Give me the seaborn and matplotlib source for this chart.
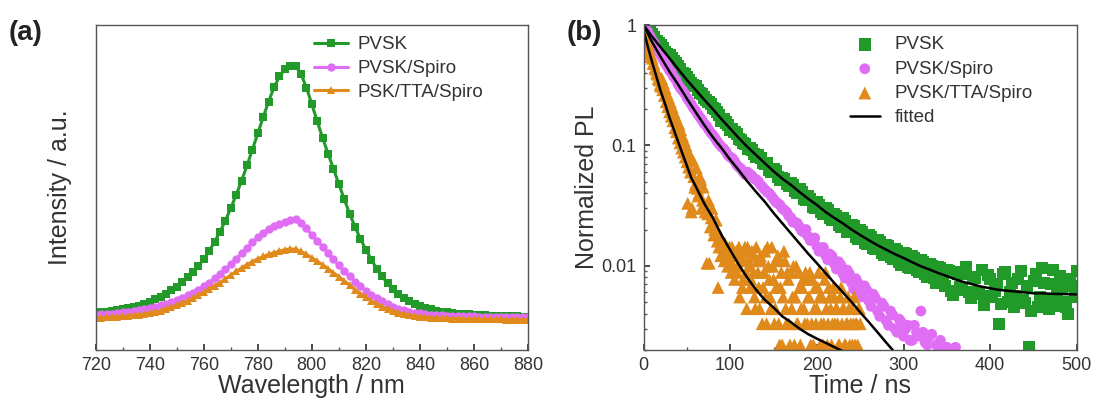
import numpy as np
import pandas as pd
import seaborn as sns
import matplotlib.pyplot as plt
from matplotlib.ticker import MultipleLocator, LogLocator, NullFormatter

# ---------------- data: (a) steady-state PL ----------------
wavelength = list(range(720, 882, 2))
pl_pvsk = [11.0, 11.1, 11.3, 11.5, 11.7, 12.0, 12.3, 12.7, 13.1, 13.6,
           14.2, 14.9, 15.7, 16.6, 17.6, 18.7, 20.0, 21.4, 23.0, 24.8,
           26.8, 29.2, 31.9, 34.9, 38.2, 41.9, 45.8, 50.0, 54.5, 59.2,
           64.0, 68.8, 73.4, 77.6, 80.8, 82.9, 84.0, 83.8, 81.5, 77.5,
           72.6, 67.5, 62.6, 58.0, 53.5, 49.0, 44.5, 40.2, 36.3, 32.8,
           29.6, 26.7, 24.0, 21.7, 19.7, 18.0, 16.6, 15.4, 14.4, 13.6,
           12.9, 12.4, 12.0, 11.6, 11.3, 11.1, 10.9, 10.7, 10.6, 10.5,
           10.4, 10.3, 10.2, 10.1, 10.1, 10.0, 10.0, 9.9, 9.9, 9.8, 9.8]
pl_spiro = [10.4, 10.5, 10.6, 10.7, 10.9, 11.1, 11.3, 11.5, 11.8, 12.1,
            12.4, 12.8, 13.2, 13.7, 14.2, 14.8, 15.4, 16.1, 16.9, 17.8,
            18.8, 19.9, 21.1, 22.4, 23.8, 25.3, 26.9, 28.5, 30.2, 31.8,
            33.3, 34.6, 35.7, 36.6, 37.3, 37.8, 38.4, 38.6, 37.6, 35.9,
            34.0, 32.2, 30.4, 28.6, 26.8, 25.0, 23.3, 21.7, 20.2, 18.8,
            17.5, 16.3, 15.2, 14.3, 13.5, 12.8, 12.2, 11.7, 11.3, 11.0,
            10.8, 10.6, 10.4, 10.3, 10.2, 10.1, 10.0, 10.0, 9.9, 9.9,
            9.9, 9.8, 9.8, 9.8, 9.7, 9.7, 9.7, 9.7, 9.6, 9.6, 9.6]
pl_tta = [9.5, 9.5, 9.6, 9.7, 9.8, 9.9, 10.0, 10.2, 10.4, 10.6,
          10.9, 11.2, 11.6, 12.1, 12.6, 13.2, 13.8, 14.5, 15.3, 16.1,
          17.0, 17.9, 18.9, 19.9, 21.0, 22.1, 23.2, 24.2, 25.2, 26.1,
          26.9, 27.6, 28.2, 28.7, 29.2, 29.6, 29.9, 29.7, 29.1, 28.2,
          27.2, 26.2, 25.1, 24.0, 22.8, 21.6, 20.4, 19.1, 17.8, 16.6,
          15.5, 14.5, 13.6, 12.8, 12.1, 11.5, 11.0, 10.6, 10.3, 10.0,
          9.8, 9.6, 9.5, 9.4, 9.3, 9.3, 9.2, 9.2, 9.1, 9.1,
          9.1, 9.0, 9.0, 9.0, 9.0, 9.0, 8.9, 8.9, 8.9, 8.9, 8.9]

# ---------------- data: (b) TRPL ----------------
t_pvsk = list(range(0, 505, 5))
trpl_pvsk = [0.98, 0.93, 0.84, 0.74, 0.68, 0.60, 0.56, 0.50, 0.46, 0.40,
             0.37, 0.33, 0.31, 0.27, 0.25, 0.23, 0.205, 0.19, 0.16, 0.155,
             0.135, 0.13, 0.112, 0.104, 0.094, 0.092, 0.080, 0.079, 0.070, 0.063,
             0.064, 0.055, 0.054, 0.048, 0.049, 0.042, 0.043, 0.036, 0.038, 0.031,
             0.034, 0.028, 0.030, 0.025, 0.027, 0.022, 0.025, 0.019, 0.022, 0.0175,
             0.020, 0.0155, 0.018, 0.014, 0.0165, 0.0128, 0.015, 0.0118, 0.0138, 0.0108,
             0.0128, 0.0098, 0.0121, 0.0092, 0.0112, 0.0085, 0.0104, 0.0079, 0.0098, 0.0074,
             0.0093, 0.0062, 0.0089, 0.0066, 0.0085, 0.0060, 0.0081, 0.0058, 0.0092, 0.0056,
             0.0078, 0.0062, 0.0033, 0.0085, 0.0050, 0.0072, 0.0056, 0.0090, 0.0049, 0.0021,
             0.0075, 0.0045, 0.0095, 0.0052, 0.0070, 0.0046, 0.0082, 0.0050, 0.0040, 0.0068,
             0.0090]
t_pvsk_b = [x + 2.5 for x in range(0, 500, 5)]
trpl_pvsk_b = [0.96, 0.88, 0.79, 0.71, 0.64, 0.58, 0.53, 0.48, 0.43, 0.39,
               0.35, 0.32, 0.29, 0.265, 0.24, 0.22, 0.20, 0.18, 0.165, 0.148,
               0.136, 0.124, 0.11, 0.102, 0.096, 0.085, 0.083, 0.072, 0.071, 0.060,
               0.061, 0.052, 0.053, 0.046, 0.047, 0.040, 0.041, 0.035, 0.036, 0.030,
               0.032, 0.027, 0.029, 0.024, 0.026, 0.021, 0.0235, 0.0195, 0.0215, 0.0168,
               0.019, 0.0152, 0.0172, 0.0138, 0.0158, 0.0122, 0.0145, 0.0113, 0.0132, 0.0102,
               0.0124, 0.0095, 0.0115, 0.0088, 0.0108, 0.0080, 0.0100, 0.0072, 0.0095, 0.0068,
               0.0090, 0.0057, 0.0086, 0.0063, 0.0098, 0.0054, 0.0079, 0.0060, 0.0047, 0.0083,
               0.0055, 0.0070, 0.0048, 0.0088, 0.0060, 0.0045, 0.0078, 0.0052, 0.0068, 0.0042,
               0.0085, 0.0055, 0.0072, 0.0044, 0.0092, 0.0056, 0.0066, 0.0045, 0.0078, 0.0055]

t_spiro = list(range(0, 335, 5)) + [340, 350, 360]
trpl_spiro = [1.0, 0.88, 0.75, 0.64, 0.56, 0.48, 0.42, 0.37, 0.32, 0.285,
              0.25, 0.22, 0.195, 0.172, 0.152, 0.136, 0.122, 0.108, 0.097, 0.089,
              0.080, 0.074, 0.066, 0.060, 0.060, 0.056, 0.052, 0.047, 0.043, 0.040,
              0.036, 0.033, 0.030, 0.028, 0.025, 0.023, 0.021, 0.019, 0.0175, 0.0165,
              0.0145, 0.0140, 0.0122, 0.0125, 0.0104, 0.0108, 0.0086, 0.0092, 0.0072, 0.0078,
              0.0061, 0.0068, 0.0051, 0.0058, 0.0042, 0.0049, 0.0035, 0.0042, 0.0030, 0.0036,
              0.0026, 0.0032, 0.0024, 0.0028, 0.0042, 0.0023, 0.0026, 0.0022, 0.0021, 0.0021]
t_spiro_b = [x + 2.5 for x in range(0, 350, 5)]
trpl_spiro_b = [0.94, 0.81, 0.70, 0.60, 0.52, 0.45, 0.40, 0.35, 0.30, 0.27,
                0.235, 0.205, 0.182, 0.162, 0.145, 0.128, 0.115, 0.102, 0.094, 0.083,
                0.078, 0.069, 0.064, 0.057, 0.058, 0.053, 0.050, 0.045, 0.041, 0.038,
                0.034, 0.032, 0.029, 0.026, 0.023, 0.0225, 0.0195, 0.020, 0.0162, 0.0170,
                0.0132, 0.0142, 0.0112, 0.0120, 0.0094, 0.0102, 0.0079, 0.0086, 0.0064, 0.0072,
                0.0055, 0.0063, 0.0046, 0.0054, 0.0038, 0.0046, 0.0032, 0.0039, 0.0028, 0.0034,
                0.0030, 0.0024, 0.0032, 0.0026, 0.0028, 0.0022, 0.0027, 0.0022, 0.0024, 0.0021]

t_tta = list(range(0, 252, 2))
trpl_tta = [0.88, 0.80, 0.72, 0.66, 0.58, 0.53, 0.48, 0.43, 0.39, 0.35,
            0.31, 0.29, 0.26, 0.23, 0.21, 0.19, 0.175, 0.16, 0.14, 0.13,
            0.115, 0.105, 0.095, 0.088, 0.080, 0.073, 0.066, 0.060, 0.030, 0.055,
            0.048, 0.044, 0.040, 0.052, 0.035, 0.032, 0.030, 0.027, 0.0105, 0.025,
            0.022, 0.020, 0.024, 0.0066, 0.018, 0.016, 0.0143, 0.0154, 0.0121, 0.0132,
            0.0110, 0.0143, 0.0099, 0.0121, 0.0088, 0.0143, 0.0110, 0.0066, 0.0132, 0.0088,
            0.0143, 0.0099, 0.0077, 0.0121, 0.0055, 0.0143, 0.0088, 0.0044, 0.0110, 0.0066,
            0.0132, 0.0033, 0.0099, 0.0055, 0.0143, 0.0077, 0.0044, 0.0110, 0.0033, 0.0066,
            0.0022, 0.0132, 0.0044, 0.0088, 0.0033, 0.0088, 0.0055, 0.0022, 0.0099, 0.0033,
            0.0066, 0.0044, 0.0077, 0.0033, 0.0077, 0.0055, 0.0088, 0.0033, 0.0022, 0.0066,
            0.0044, 0.0088, 0.0022, 0.0055, 0.0033, 0.0088, 0.0022, 0.0066, 0.0044, 0.0033,
            0.0055, 0.0044, 0.0033, 0.0022, 0.0066, 0.0044, 0.0022, 0.0033, 0.0055, 0.0022,
            0.0044, 0.0033, 0.0022, 0.0033, 0.0044, 0.0033]
t_tta_b = list(range(1, 251, 2))
trpl_tta_b = [0.84, 0.74, 0.66, 0.60, 0.55, 0.48, 0.44, 0.40, 0.36, 0.32,
              0.36, 0.33, 0.30, 0.27, 0.25, 0.23, 0.21, 0.19, 0.175, 0.16,
              0.15, 0.135, 0.12, 0.11, 0.10, 0.033, 0.085, 0.028, 0.075, 0.045,
              0.065, 0.038, 0.055, 0.030, 0.045, 0.028, 0.0105, 0.035, 0.021, 0.030,
              0.018, 0.024, 0.016, 0.0143, 0.0121, 0.0154, 0.0110, 0.0132, 0.0099, 0.0143,
              0.0088, 0.0121, 0.0077, 0.0132, 0.0099, 0.0055, 0.0121, 0.0077, 0.0143, 0.0044,
              0.0110, 0.0066, 0.0132, 0.0088, 0.0044, 0.0110, 0.0066, 0.0121, 0.0033, 0.0088,
              0.0055, 0.0143, 0.0077, 0.0044, 0.0099, 0.0033, 0.0066, 0.0121, 0.0022, 0.0088,
              0.0055, 0.0110, 0.0033, 0.0077, 0.0022, 0.0044, 0.0099, 0.0055, 0.0033, 0.0088,
              0.0022, 0.0066, 0.0044, 0.0088, 0.0033, 0.0055, 0.0022, 0.0077, 0.0044, 0.0033,
              0.0066, 0.0055, 0.0033, 0.0022, 0.0077, 0.0044, 0.0033, 0.0055, 0.0022, 0.0066,
              0.0033, 0.0044, 0.0022, 0.0055, 0.0033, 0.0044, 0.0022, 0.0033, 0.0044, 0.0033,
              0.0022, 0.0055, 0.0033, 0.0022, 0.0044]

# fitted curves
t_fit_pvsk = list(range(0, 510, 10))
fit_pvsk = [1.0, 0.80, 0.65, 0.53, 0.43, 0.35, 0.29, 0.24, 0.20, 0.165,
            0.138, 0.115, 0.097, 0.083, 0.071, 0.061, 0.053, 0.047, 0.041, 0.036,
            0.032, 0.028, 0.025, 0.0225, 0.0200, 0.0180, 0.0163, 0.0148, 0.0136, 0.0125,
            0.0116, 0.0107, 0.0099, 0.0093, 0.0087, 0.0082, 0.0077, 0.0073, 0.0070, 0.0067,
            0.0065, 0.0063, 0.0062, 0.0061, 0.0060, 0.0059, 0.0059, 0.00585, 0.00583, 0.0058,
            0.00578]
t_fit_spiro = list(range(0, 300, 10))
fit_spiro = [1.0, 0.72, 0.54, 0.41, 0.32, 0.245, 0.19, 0.148, 0.117, 0.095,
             0.076, 0.062, 0.050, 0.041, 0.034, 0.0275, 0.0226, 0.0186, 0.0153, 0.0126,
             0.0105, 0.0087, 0.0072, 0.0060, 0.0050, 0.0041, 0.0034, 0.0028, 0.0023, 0.0019]
t_fit_tta = [0, 5, 10, 15, 20, 25, 30, 35, 40, 45, 50, 55, 60, 70, 80, 90, 100,
             110, 120, 130, 140, 150, 160, 170, 180, 190, 200, 210, 220, 230]
fit_tta = [0.91, 0.66, 0.49, 0.37, 0.28, 0.22, 0.17, 0.135, 0.107, 0.085,
           0.068, 0.054, 0.046, 0.033, 0.025, 0.018, 0.0135, 0.0102, 0.0079, 0.0063,
           0.0052, 0.0045, 0.0038, 0.0034, 0.0030, 0.0027, 0.00248, 0.00229, 0.00211, 0.00195]

labels_a = ["PVSK", "PVSK/Spiro", "PSK/TTA/Spiro"]
labels_b = ["PVSK", "PVSK/Spiro", "PVSK/TTA/Spiro"]
colors = ["#229a2a", "#e06ef5", "#e08a1c"]

sns.set_theme(style="ticks")
plt.rcParams["font.family"] = ["Liberation Sans", "DejaVu Sans"]
plt.rcParams["xtick.direction"] = "in"
plt.rcParams["ytick.direction"] = "in"
plt.rcParams["axes.edgecolor"] = "#555555"
plt.rcParams["axes.linewidth"] = 1.0

fig = plt.figure(figsize=(11, 4.04), dpi=100)
ax1 = fig.add_axes([0.087, 0.134, 0.393, 0.804])
ax2 = fig.add_axes([0.585, 0.134, 0.394, 0.804])

# ---------------- panel (a) ----------------
for yv, lab, col, mk in zip([pl_pvsk, pl_spiro, pl_tta], labels_a, colors, ["s", "o", "^"]):
    sns.lineplot(x=wavelength, y=yv, ax=ax1, color=col, marker=mk, markersize=6,
                 markeredgewidth=0, linewidth=2.2, label=lab)
ax1.set_xlim(720, 880)
ax1.set_ylim(0, 96)
ax1.xaxis.set_major_locator(MultipleLocator(20))
ax1.xaxis.set_minor_locator(MultipleLocator(10))
ax1.set_yticks([])
ax1.tick_params(axis="x", which="major", length=4, labelsize=13, colors="#333333", pad=5)
ax1.tick_params(axis="x", which="minor", length=2, colors="#555555")
ax1.set_xlabel("Wavelength / nm", fontsize=18, color="#333333", labelpad=0)
ax1.set_ylabel("Intensity / a.u.", fontsize=18, color="#333333", labelpad=17)
leg1 = ax1.legend(loc="upper left", bbox_to_anchor=(0.48, 1.0), frameon=False,
                  fontsize=13.5, handlelength=1.8, labelspacing=0.35,
                  borderaxespad=0.2, handletextpad=0.5)
for t in leg1.get_texts():
    t.set_color("#333333")

# ---------------- panel (b) ----------------
series_b = [(t_pvsk + t_pvsk_b, trpl_pvsk + trpl_pvsk_b, "s", 75),
            (t_spiro + t_spiro_b, trpl_spiro + trpl_spiro_b, "o", 60),
            (t_tta + t_tta_b, trpl_tta + trpl_tta_b, "^", 85)]
for (tv, yv, mk, sz), lab, col in zip(series_b, labels_b, colors):
    sns.scatterplot(x=tv, y=yv, ax=ax2, color=col, marker=mk, s=sz,
                    edgecolor="none", linewidth=0, label=lab)
sns.lineplot(x=t_fit_pvsk, y=fit_pvsk, ax=ax2, color="black", linewidth=1.8, label="fitted")
sns.lineplot(x=t_fit_spiro, y=fit_spiro, ax=ax2, color="black", linewidth=1.8, legend=False)
sns.lineplot(x=t_fit_tta, y=fit_tta, ax=ax2, color="black", linewidth=1.8, legend=False)
ax2.set_yscale("log")
ax2.set_xlim(0, 500)
ax2.set_ylim(0.002, 1)
ax2.xaxis.set_major_locator(MultipleLocator(100))
ax2.xaxis.set_minor_locator(MultipleLocator(50))
ax2.set_yticks([0.01, 0.1, 1], ["0.01", "0.1", "1"])
ax2.yaxis.set_minor_locator(LogLocator(base=10, subs=np.arange(2, 10)))
ax2.yaxis.set_minor_formatter(NullFormatter())
ax2.tick_params(axis="both", which="major", length=4, labelsize=13, colors="#333333", pad=5)
ax2.tick_params(axis="both", which="minor", length=2, colors="#555555")
ax2.set_xlabel("Time / ns", fontsize=18, color="#333333", labelpad=0)
ax2.set_ylabel("Normalized PL", fontsize=18, color="#333333", labelpad=2)
leg2 = ax2.legend(loc="upper left", bbox_to_anchor=(0.45, 1.0), frameon=False,
                  fontsize=13.5, handlelength=1.6, labelspacing=0.38,
                  borderaxespad=0.2, handletextpad=0.8)
for t in leg2.get_texts():
    t.set_color("#333333")

fig.text(0.008, 0.9, "(a)", fontsize=20, fontweight="bold", color="#222222")
fig.text(0.515, 0.9, "(b)", fontsize=20, fontweight="bold", color="#222222")

fig.savefig("out.png", dpi=100)
